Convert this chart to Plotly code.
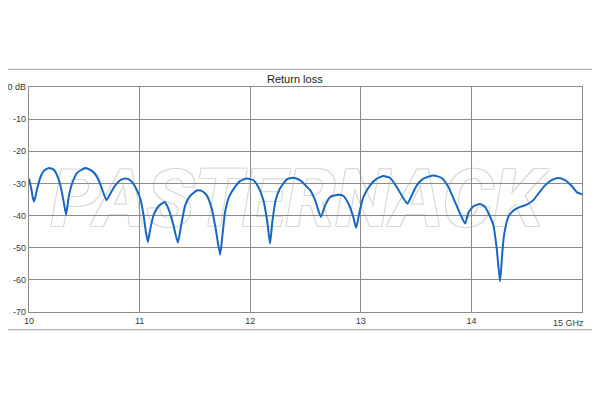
import plotly.graph_objects as go

# Frequency (GHz) and return loss (dB)
freq_ghz = [
    10.000, 10.020, 10.035, 10.047, 10.074, 10.104, 10.134, 10.179, 10.224, 10.254,
    10.284, 10.314, 10.335, 10.359, 10.389, 10.435, 10.510, 10.570, 10.615, 10.654,
    10.700, 10.735, 10.780, 10.826, 10.871, 10.916, 10.961, 11.006, 11.036, 11.057,
    11.075, 11.094, 11.126, 11.171, 11.200, 11.225, 11.247, 11.276, 11.306, 11.346,
    11.376, 11.412, 11.457, 11.517, 11.562, 11.607, 11.652, 11.688, 11.728, 11.749,
    11.773, 11.809, 11.863, 11.908, 11.968, 12.029, 12.074, 12.119, 12.155, 12.179,
    12.200, 12.230, 12.269, 12.329, 12.390, 12.450, 12.500, 12.542, 12.587, 12.639,
    12.678, 12.723, 12.798, 12.843, 12.889, 12.928, 12.958, 12.988, 13.024, 13.084,
    13.145, 13.205, 13.265, 13.325, 13.386, 13.422, 13.461, 13.506, 13.566, 13.657,
    13.732, 13.792, 13.852, 13.898, 13.943, 13.973, 14.018, 14.078, 14.123, 14.163,
    14.199, 14.229, 14.259, 14.280, 14.295, 14.334, 14.380, 14.440, 14.500, 14.560,
    14.605, 14.666, 14.726, 14.786, 14.846, 14.907, 14.952, 15.000,
]
return_loss_db = [
    -28.5, -31.5, -34.5, -35.6, -31.6, -28.0, -26.1, -25.2, -25.7, -27.5,
    -30.6, -35.8, -39.7, -34.2, -30.1, -26.7, -25.2, -26.1, -28.0, -31.1,
    -35.2, -33.2, -30.6, -29.0, -28.5, -29.0, -31.1, -34.7, -39.9, -45.1,
    -48.2, -44.6, -39.9, -37.1, -36.3, -35.8, -36.8, -39.4, -43.0, -48.4,
    -43.0, -36.8, -33.9, -32.2, -32.3, -33.7, -37.8, -44.1, -52.2, -46.1,
    -38.9, -34.2, -31.1, -29.3, -28.5, -29.0, -31.1, -35.2, -42.0, -48.7,
    -42.0, -35.2, -31.6, -28.8, -28.2, -29.0, -30.6, -32.1, -35.2, -40.4,
    -36.8, -34.2, -33.5, -33.9, -36.3, -39.9, -43.8, -38.9, -34.2, -30.6,
    -28.5, -27.7, -28.3, -31.1, -34.7, -36.3, -33.7, -30.6, -28.5, -27.5,
    -28.3, -31.1, -35.8, -39.4, -42.5, -39.1, -37.1, -36.4, -37.3, -39.9,
    -43.0, -50.3, -60.5, -51.3, -46.1, -40.4, -38.4, -37.3, -36.6, -35.2,
    -33.2, -30.6, -29.0, -28.3, -29.0, -30.8, -32.7, -33.4,
]

x_tick_vals = [10, 11, 12, 13, 14]
x_tick_text = ["10", "11", "12", "13", "14"]
y_tick_vals = [0, -10, -20, -30, -40, -50, -60, -70]
y_tick_text = ["0 dB", "-10", "-20", "-30", "-40", "-50", "-60", "-70"]

chart_title = "Return loss"
watermark = "PASTERNACK"
last_x_label = "15 GHz"

GRID = "#8c8c8c"
LINE = "#1767c2"
TXT = "#3a3a3a"

fig = go.Figure()

# Watermark (subplot 1, drawn underneath the gridded subplot)
fig.add_trace(go.Scatter(
    x=[12.42], y=[-37.0], mode="text", text=[watermark],
    textposition="middle center",
    textfont=dict(family="Roboto", size=80, color="white", weight="bold", style="italic",
                  shadow="1px 1px 0 #d9d9d9, -1px -1px 0 #d9d9d9, 1px -1px 0 #d9d9d9, -1px 1px 0 #d9d9d9"),
    hoverinfo="skip", showlegend=False, xaxis="x", yaxis="y", cliponaxis=False,
))

# Return loss curve (subplot 2 with gridlines)
fig.add_trace(go.Scatter(
    x=freq_ghz, y=return_loss_db, mode="lines",
    line=dict(color=LINE, width=2, shape="spline", smoothing=0.5),
    hoverinfo="skip", showlegend=False, xaxis="x2", yaxis="y2",
))

# the page body adds an 8 px offset, so margins are reduced on the left/top
fig.update_layout(
    width=600, height=400,
    margin=dict(l=21, r=26, t=79, b=96, autoexpand=False),
    paper_bgcolor="white", plot_bgcolor="rgba(0,0,0,0)",
    font=dict(family="Liberation Sans", size=9, color=TXT),
    xaxis=dict(domain=[0, 1], range=[10, 15], visible=False, fixedrange=True, automargin=False),
    yaxis=dict(domain=[0, 1], range=[-70, 0], visible=False, fixedrange=True, automargin=False),
    xaxis2=dict(domain=[0, 1], range=[10, 15], anchor="y2", automargin=False,
                tickvals=x_tick_vals, ticktext=x_tick_text,
                showgrid=True, gridcolor=GRID, gridwidth=1.3,
                showline=True, linecolor=GRID, linewidth=1.3, mirror=True,
                ticks="", zeroline=False, tickfont=dict(size=9, color=TXT)),
    yaxis2=dict(domain=[0, 1], range=[-70, 0], anchor="x2", automargin=False,
                tickvals=y_tick_vals, ticktext=y_tick_text,
                showgrid=True, gridcolor=GRID, gridwidth=1.3,
                showline=True, linecolor=GRID, linewidth=1.3, mirror=True,
                ticks="", zeroline=False, tickfont=dict(size=9, color=TXT)),
    shapes=[dict(type="rect", xref="paper", yref="paper",
                 x0=-0.045, x1=1.0253, y0=-0.078, y1=1.0787,
                 line=dict(color="#b5b5b5", width=1.2), fillcolor="rgba(0,0,0,0)",
                 layer="below")],
    annotations=[
        dict(text=chart_title, xref="paper", yref="paper", x=0.481, y=1.0356,
             xanchor="center", yanchor="middle", showarrow=False,
             font=dict(family="Liberation Sans", size=11, color="#222222")),
        dict(text=last_x_label, xref="x2", yref="paper", x=15, y=0,
             xanchor="right", yanchor="top", xshift=4, yshift=-4, showarrow=False,
             font=dict(family="Liberation Sans", size=9, color=TXT)),
    ],
)

fig.write_html("out.html")
